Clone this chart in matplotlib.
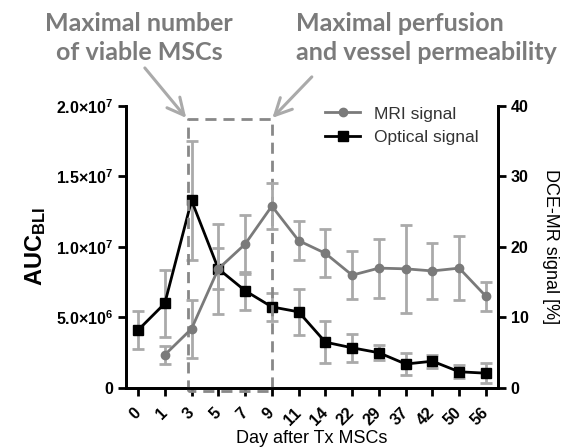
"""
MRI vs optical signal after MSC transplantation, recreated from a figure
"""

import numpy as np
import matplotlib
matplotlib.use('Agg')
import matplotlib.pyplot as plt

days = ['0', '1', '3', '5', '7', '9', '11', '14', '22', '29', '37', '42', '50', '56']

optical = [4.1e6, 6.0e6, 13.3e6, 8.45e6, 6.9e6, 5.75e6, 5.4e6,
           3.25e6, 2.85e6, 2.5e6, 1.7e6, 1.9e6, 1.15e6, 1.05e6]
optical_err = [1.35e6, 2.4e6, 4.2e6, 1.45e6, 1.35e6, 1.0e6, 1.65e6,
               1.5e6, 1.0e6, 0.55e6, 0.8e6, 0.45e6, 0.45e6, 0.7e6]

mri = [np.nan, 4.7, 8.4, 16.9, 20.4, 25.8, 20.9,
       19.1, 16.0, 17.0, 16.9, 16.6, 17.0, 13.0]
mri_err = [np.nan, 1.3, 4.1, 6.4, 4.2, 3.3, 2.8,
           3.4, 3.4, 4.2, 6.2, 4.0, 4.5, 2.1]

left_ticks = [0, 5e6, 1e7, 1.5e7, 2e7]
left_labels = ['0', '5.0×10$^{6}$', '1.0×10$^{7}$',
               '1.5×10$^{7}$', '2.0×10$^{7}$']
right_ticks = [0, 10, 20, 30, 40]

plt.rcParams['font.family'] = ['Liberation Sans', 'DejaVu Sans']
plt.rcParams['mathtext.fontset'] = 'custom'
plt.rcParams['mathtext.rm'] = 'Liberation Sans:bold'
plt.rcParams['mathtext.bf'] = 'Liberation Sans:bold'
plt.rcParams['mathtext.default'] = 'bf'

BARGRAY = '#aaaaaa'
LINEGRAY = '#7a7a7a'
NOTEGRAY = '#7b7b7b'

fig = plt.figure(figsize=(5.68, 4.47), dpi=100)
ax = fig.add_axes([0.2218, 0.132, 0.655, 0.631])
ax2 = ax.twinx()

x = np.arange(len(days))

# optical signal (left axis)
ax.errorbar(x, optical, yerr=optical_err, fmt='none', ecolor=BARGRAY,
            elinewidth=2, capsize=4, capthick=2, zorder=2)
opt_line, = ax.plot(x, optical, color='black', lw=2, marker='s',
                    markersize=7, zorder=3, label='Optical signal')

# MRI signal (right axis)
ax2.errorbar(x, mri, yerr=mri_err, fmt='none', ecolor=BARGRAY,
             elinewidth=2, capsize=4, capthick=2, zorder=2)
mri_line, = ax2.plot(x, mri, color=LINEGRAY, lw=2, marker='o',
                     markersize=6, zorder=3, label='MRI signal')

ax.set_xlim(-0.45, 13.45)
ax.set_ylim(0, 2e7)
ax2.set_ylim(0, 40)

ax.set_xticks(x)
ax.set_xticklabels(days, rotation=45, ha='right', va='center',
                   rotation_mode='anchor', fontweight='bold', fontsize=11.5)
ax.set_yticks(left_ticks)
ax.set_yticklabels(left_labels, fontweight='bold', fontsize=11.5)
ax2.set_yticks(right_ticks)
ax2.set_yticklabels([str(t) for t in right_ticks], fontweight='bold',
                    fontsize=11.5)

for a in (ax, ax2):
    a.spines['top'].set_visible(False)
    for s in ('left', 'right', 'bottom'):
        a.spines[s].set_linewidth(2)
    a.tick_params(width=2, length=6, direction='out', pad=3)
ax.tick_params(axis='x', pad=10)

ax.set_xlabel('Day after Tx MSCs', fontsize=13, labelpad=1)
ax.set_ylabel(r'AUC$_{\mathbf{BLI}}$', fontsize=17, fontweight='bold',
              labelpad=6)
ax2.set_ylabel('DCE-MR signal [%]', fontsize=13, rotation=270,
               labelpad=22)

leg = ax2.legend(handles=[mri_line, opt_line], loc='upper left',
                 bbox_to_anchor=(0.545, 0.797), bbox_transform=fig.transFigure,
                 frameon=False, fontsize=12.5, handlelength=2.0,
                 handletextpad=0.8, labelspacing=0.5)
for t in leg.get_texts():
    t.set_color('#333333')

# dashed window between day 3 and day 9
rect_x = [1.86, 1.86, 5.0, 5.0, 1.86]
rect_y = [-0.2e6, 1.91e7, 1.91e7, -0.2e6, -0.2e6]
ax.plot(rect_x, rect_y, color='#888888', lw=2, ls=(0, (4, 2.5)),
        clip_on=False, zorder=4)

# annotations
fig.text(0.245, 0.915, 'Maximal number\nof viable MSCs', ha='center',
         va='center', fontsize=18, fontweight='bold', color=NOTEGRAY,
         family='Lato', linespacing=1.3)
fig.text(0.522, 0.915, 'Maximal perfusion\nand vessel permeability',
         ha='left', va='center', fontsize=18, fontweight='bold',
         color=NOTEGRAY, family='Lato', linespacing=1.3)

arrow = dict(arrowstyle='->', color=BARGRAY, lw=2.2, mutation_scale=30,
             shrinkA=0, shrinkB=0)
ax.annotate('', xy=(1.8, 1.915e7), xycoords='data',
            xytext=(0.255, 0.848), textcoords='figure fraction',
            arrowprops=arrow)
ax.annotate('', xy=(5.02, 1.915e7), xycoords='data',
            xytext=(0.549, 0.828), textcoords='figure fraction',
            arrowprops=arrow)

fig.savefig('out.png', dpi=100)
